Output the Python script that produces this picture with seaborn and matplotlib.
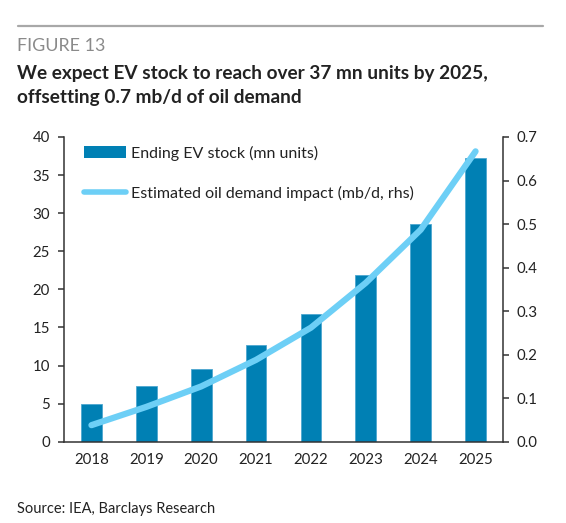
import numpy as np
import pandas as pd
import matplotlib
matplotlib.use("Agg")
import matplotlib.pyplot as plt
from matplotlib.lines import Line2D
from matplotlib.patches import Patch
import seaborn as sns

years = ["2018", "2019", "2020", "2021", "2022", "2023", "2024", "2025"]
ev_stock = [5.0, 7.3, 9.6, 12.7, 16.7, 21.9, 28.6, 37.2]
oil_impact = [0.038, 0.080, 0.127, 0.188, 0.262, 0.365, 0.487, 0.667]
left_ticks = [0, 5, 10, 15, 20, 25, 30, 35, 40]
right_ticks = [0.0, 0.1, 0.2, 0.3, 0.4, 0.5, 0.6, 0.7]

BAR = "#0080B4"
LINE = "#6DCFF6"
TXT = "#222222"
SPINE = "#333333"

sns.set_theme(style="white")
plt.rcParams["font.family"] = ["Lato", "DejaVu Sans"]

df = pd.DataFrame({"year": years, "ev": ev_stock, "oil": oil_impact})
df["pos"] = np.arange(len(df))

fig = plt.figure(figsize=(5.66, 5.23), dpi=100)
ax = fig.add_axes([64 / 566, 1 - 441.7 / 523, (503 - 64) / 566, (441.7 - 137) / 523])

sns.barplot(data=df, x="year", y="ev", color=BAR, saturation=1, width=0.38,
            edgecolor="#4da6d0", linewidth=0.6, ax=ax)
ax.set_xlim(-0.5, len(years) - 0.5)
ax.set_ylim(0, 40)
ax.set_yticks(left_ticks)
ax.set_xlabel("")
ax.set_ylabel("")

ax2 = ax.twinx()
sns.lineplot(data=df, x="pos", y="oil", color=LINE, linewidth=4.5, ax=ax2,
             solid_capstyle="round")
ax2.set_ylim(0, 0.7)
ax2.set_yticks(right_ticks)
ax2.set_yticklabels([f"{v:.1f}" for v in right_ticks])
ax2.set_ylabel("")
ax2.set_xlabel("")
ax.set_xlim(-0.5, len(years) - 0.5)

for a in (ax, ax2):
    a.spines["top"].set_visible(False)
    for s in ("left", "right", "bottom"):
        a.spines[s].set_color(SPINE)
        a.spines[s].set_linewidth(1.1)
ax.spines["right"].set_visible(False)
ax2.spines["left"].set_visible(False)
ax2.spines["bottom"].set_visible(False)

ax.set_xticks(np.arange(len(years)))
ax.set_xticklabels(years)
ax.set_xticks(np.arange(-0.5, len(years)), minor=True)
ax.tick_params(axis="x", which="major", length=0, pad=8, labelsize=10.8, labelcolor=TXT)
ax.tick_params(axis="x", which="minor", length=5, width=1.1, color=SPINE, direction="out")
ax.tick_params(axis="y", length=4, width=1.1, color=SPINE, direction="out", left=True,
               labelsize=10.8, labelcolor=TXT, pad=6)
ax2.tick_params(axis="y", length=4, width=1.1, color=SPINE, direction="out", right=True,
                labelsize=10.8, labelcolor=TXT, pad=6)
ax.grid(False)
ax2.grid(False)

handles = [Patch(facecolor=BAR, edgecolor="none"),
           Line2D([0], [0], color=LINE, lw=4, solid_capstyle="round")]
labels = ["Ending EV stock (mn units)", "Estimated oil demand impact (mb/d, rhs)"]
leg = fig.legend(handles, labels, loc="upper left", bbox_to_anchor=(84 / 566, 1 - 145.5 / 523),
                 frameon=False, fontsize=11.5, handlelength=2.65, handleheight=0.85,
                 handletextpad=0.3, labelspacing=1.6, borderpad=0, borderaxespad=0)
for t in leg.get_texts():
    t.set_color(TXT)

fig.add_artist(Line2D([18 / 566, 543 / 566], [1 - 26 / 523, 1 - 26 / 523],
                      color="#A8A8A8", lw=1.6, transform=fig.transFigure))
fig.text(17 / 566, 1 - 46 / 523, "FIGURE 13", color="#8A8A8A", fontsize=12.9,
         va="center", ha="left")
fig.text(17 / 566, 1 - 73 / 523, "We expect EV stock to reach over 37 mn units by 2025,",
         color=TXT, fontsize=13.7, fontweight="bold", va="center", ha="left")
fig.text(17 / 566, 1 - 97 / 523, "offsetting 0.7 mb/d of oil demand",
         color=TXT, fontsize=13.7, fontweight="bold", va="center", ha="left")
fig.text(17 / 566, 1 - 509 / 523, "Source: IEA, Barclays Research",
         color=TXT, fontsize=10.5, va="center", ha="left")

fig.savefig("out.png", dpi=100)
